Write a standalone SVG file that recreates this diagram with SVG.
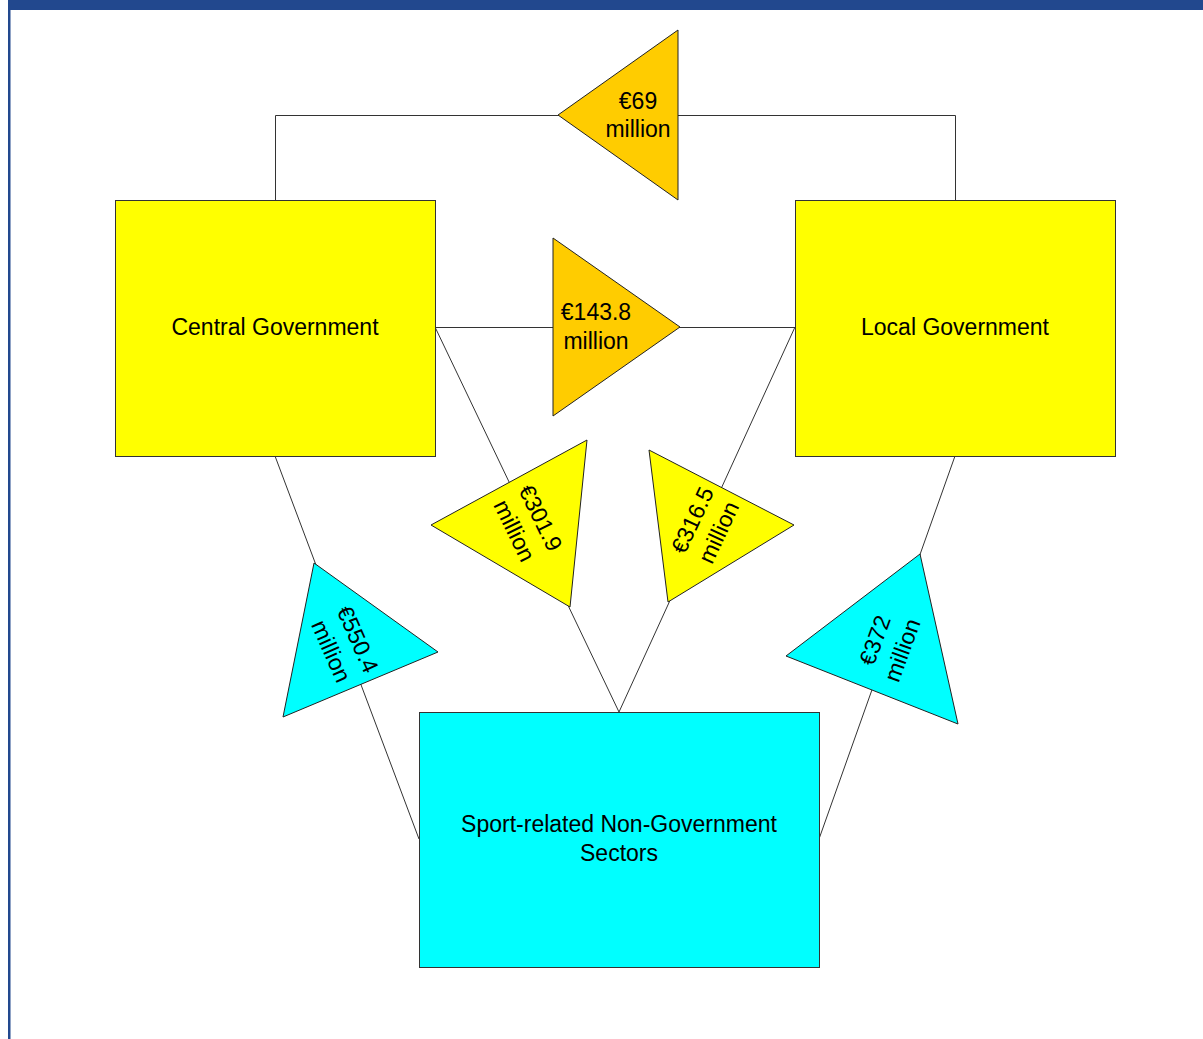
<svg xmlns="http://www.w3.org/2000/svg" width="1203" height="1039" viewBox="0 0 1203 1039">
  <style>
    .box { stroke: #333333; stroke-width: 1; }
    .tri { stroke: #222222; stroke-width: 1; stroke-linejoin: miter; }
    .conn { fill: none; stroke: #333333; stroke-width: 1; }
    .lbl { font-family: "Liberation Sans", Arial, sans-serif; font-size: 23px; fill: #000000; text-anchor: middle; }
    .yellow { fill: #FFFF00; }
    .orange { fill: #FFCC00; }
    .cyan { fill: #00FFFF; }
  </style>
  <rect x="0" y="0" width="1203" height="1039" fill="#FFFFFF"/>
  <g id="frame">
    <rect x="8" y="0" width="1195" height="10" fill="#22488E"/>
    <rect x="8" y="0" width="2.5" height="1039" fill="#22488E"/>
  </g>

  <g id="connectors">
    <polyline class="conn" points="275.5,200 275.5,115.5 955.5,115.5 955.5,200"/>
    <line class="conn" x1="435" y1="327.5" x2="795" y2="327.5"/>
    <line class="conn" x1="275" y1="456" x2="419" y2="839"/>
    <line class="conn" x1="955" y1="456" x2="819" y2="839"/>
    <line class="conn" x1="435" y1="327" x2="619" y2="712"/>
    <line class="conn" x1="795" y1="327" x2="619" y2="712"/>
  </g>

  <g id="central-government">
    <rect class="box yellow" x="115.5" y="200.5" width="320" height="256"/>
    <text class="lbl" x="275" y="335">Central Government</text>
  </g>

  <g id="local-government">
    <rect class="box yellow" x="795.5" y="200.5" width="320" height="256"/>
    <text class="lbl" x="955" y="335">Local Government</text>
  </g>

  <g id="sport-non-government">
    <rect class="box cyan" x="419.5" y="712.5" width="400" height="255"/>
    <text class="lbl" x="619" y="832">Sport-related Non-Government</text>
    <text class="lbl" x="619" y="861">Sectors</text>
  </g>

  <g id="flow-69">
    <polygon class="tri orange" points="678,30 678,200 558,115"/>
    <text class="lbl" x="638" y="109">€69</text>
    <text class="lbl" x="638" y="137">million</text>
  </g>

  <g id="flow-143-8">
    <polygon class="tri orange" points="553,238 553,416 680,327"/>
    <text class="lbl" x="596" y="320">€143.8</text>
    <text class="lbl" x="596" y="349">million</text>
  </g>

  <g id="flow-301-9">
    <polygon class="tri yellow" points="587,440 431,525 570,607"/>
    <g transform="translate(528,524) rotate(64)">
      <text class="lbl" x="0" y="-6">€301.9</text>
      <text class="lbl" x="0" y="23">million</text>
    </g>
  </g>

  <g id="flow-316-5">
    <polygon class="tri yellow" points="649,450 794,525 668,602"/>
    <g transform="translate(705,526) rotate(-65)">
      <text class="lbl" x="0" y="-6">€316.5</text>
      <text class="lbl" x="0" y="23">million</text>
    </g>
  </g>

  <g id="flow-550-4">
    <polygon class="tri cyan" points="314,563 438,652 283,717"/>
    <g transform="translate(345,645) rotate(66)">
      <text class="lbl" x="0" y="-6">€550.4</text>
      <text class="lbl" x="0" y="23">million</text>
    </g>
  </g>

  <g id="flow-372">
    <polygon class="tri cyan" points="920,554 786,656 958,724"/>
    <g transform="translate(888,645) rotate(-70)">
      <text class="lbl" x="0" y="-6">€372</text>
      <text class="lbl" x="0" y="23">million</text>
    </g>
  </g>
</svg>
